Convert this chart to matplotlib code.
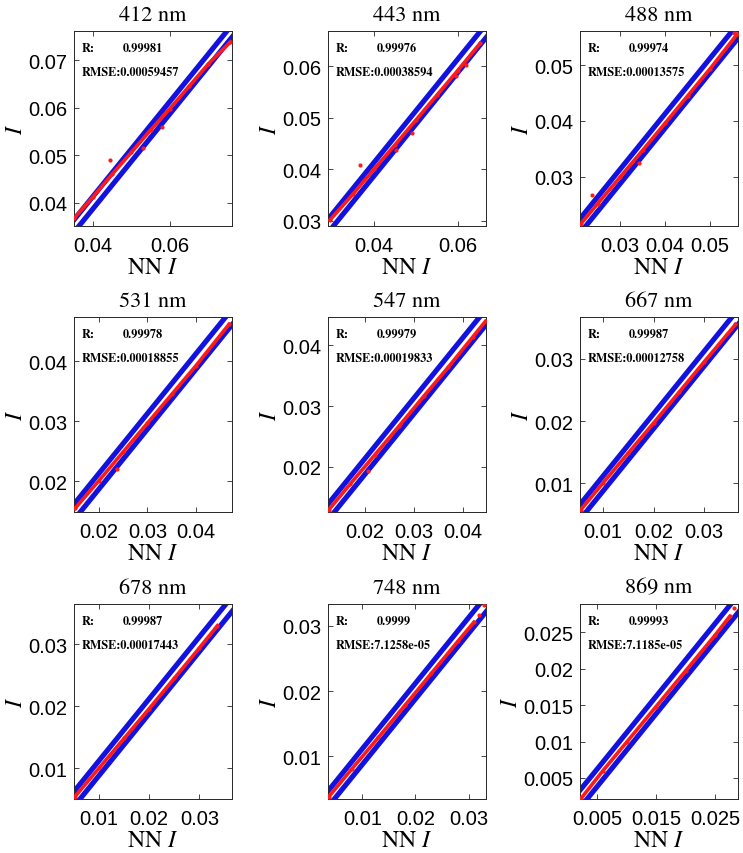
import matplotlib
matplotlib.use("Agg")
import matplotlib.pyplot as plt

plt.rcParams['mathtext.fontset'] = 'stix'

# wavelength panels
titles = ['412 nm', '443 nm', '488 nm', '531 nm', '547 nm', '667 nm', '678 nm', '748 nm', '869 nm']
r_vals = ['0.99981', '0.99976', '0.99974', '0.99978', '0.99979', '0.99987', '0.99987', '0.9999', '0.99993']
rmse_vals = ['0.00059457', '0.00038594', '0.00013575', '0.00018855', '0.00019833',
             '0.00012758', '0.00017443', '7.1258e-05', '7.1185e-05']

# axis limits (same range on x and y)
lims = [(0.0351, 0.0761), (0.0290, 0.0668), (0.0211, 0.0562),
        (0.0149, 0.0474), (0.0125, 0.0447), (0.0054, 0.0367),
        (0.0050, 0.0365), (0.0035, 0.0333), (0.0021, 0.0289)]

xticks = [[0.04, 0.06], [0.04, 0.06], [0.03, 0.04, 0.05],
          [0.02, 0.03, 0.04], [0.02, 0.03, 0.04], [0.01, 0.02, 0.03],
          [0.01, 0.02, 0.03], [0.01, 0.02, 0.03], [0.005, 0.015, 0.025]]
yticks = [[0.04, 0.05, 0.06, 0.07], [0.03, 0.04, 0.05, 0.06], [0.03, 0.04, 0.05],
          [0.02, 0.03, 0.04], [0.02, 0.03, 0.04], [0.01, 0.02, 0.03],
          [0.01, 0.02, 0.03], [0.01, 0.02, 0.03], [0.005, 0.01, 0.015, 0.02, 0.025]]

# half width of the blue band around the 1:1 line
band = [0.0013, 0.0013, 0.0013, 0.0013, 0.0013, 0.0012, 0.0012, 0.0012, 0.0012]

# red points: NN I (x) vs I (y), read along the cloud
nn_main = [
    [0.0352, 0.0400, 0.0450, 0.0500, 0.0550, 0.0600, 0.0650, 0.0700, 0.0757],
    [0.0295, 0.0350, 0.0400, 0.0450, 0.0500, 0.0550, 0.0600, 0.0654],
    [0.0213, 0.0250, 0.0300, 0.0350, 0.0400, 0.0450, 0.0500, 0.0560],
    [0.0151, 0.0200, 0.0250, 0.0300, 0.0350, 0.0400, 0.0468],
    [0.0127, 0.0170, 0.0220, 0.0270, 0.0320, 0.0370, 0.0420, 0.0446],
    [0.0056, 0.0100, 0.0150, 0.0200, 0.0250, 0.0300, 0.0362],
    [0.0051, 0.0100, 0.0150, 0.0200, 0.0250, 0.0300, 0.0336],
    [0.0036, 0.0080, 0.0130, 0.0180, 0.0230, 0.0280, 0.0310],
    [0.0023, 0.0060, 0.0100, 0.0150, 0.0200, 0.0250, 0.0275],
]
i_main = [
    [0.0368, 0.0412, 0.0460, 0.0506, 0.0553, 0.0598, 0.0645, 0.0692, 0.0738],
    [0.0302, 0.0352, 0.0400, 0.0447, 0.0495, 0.0543, 0.0591, 0.0644],
    [0.0215, 0.0251, 0.0299, 0.0347, 0.0396, 0.0445, 0.0494, 0.0556],
    [0.0155, 0.0201, 0.0249, 0.0297, 0.0345, 0.0393, 0.0462],
    [0.0129, 0.0171, 0.0219, 0.0267, 0.0316, 0.0364, 0.0414, 0.0440],
    [0.0058, 0.0101, 0.0149, 0.0197, 0.0246, 0.0295, 0.0355],
    [0.0053, 0.0100, 0.0148, 0.0196, 0.0245, 0.0294, 0.0330],
    [0.0038, 0.0081, 0.0129, 0.0178, 0.0227, 0.0276, 0.0305],
    [0.0022, 0.0060, 0.0099, 0.0148, 0.0197, 0.0246, 0.0272],
]

# scattered red points off the main cloud
nn_out = [
    [0.0445, 0.0530, 0.0580],
    [0.0366, 0.0452, 0.0490, 0.0597, 0.0621],
    [0.0237, 0.0342, 0.0554],
    [0.0238],
    [0.0207],
    [],
    [],
    [0.0320, 0.0330],
    [0.0283],
]
i_out = [
    [0.0489, 0.0515, 0.0560],
    [0.0408, 0.0438, 0.0470, 0.0581, 0.0603],
    [0.0266, 0.0324, 0.0558],
    [0.0221],
    [0.0192],
    [],
    [],
    [0.0316, 0.0331],
    [0.0284],
]

fig = plt.figure(figsize=(7.43, 8.54), dpi=100)
W, H = 743.0, 854.0
col_left = [74, 328, 580]
row_top = [32, 318, 605]
aw, ah = 158, 195

serif = ['STIXGeneral', 'Liberation Serif', 'DejaVu Serif']
sans = ['Liberation Sans', 'DejaVu Sans']
blue = '#1212e0'
red = '#ff1a1a'

for k in range(9):
    r, c = divmod(k, 3)
    ax = fig.add_axes([col_left[c] / W, 1 - (row_top[r] + ah) / H, aw / W, ah / H])
    lo, hi = lims[k]

    # blue band lines
    d = band[k]
    ax.plot([lo - 0.01, hi + 0.01], [lo - 0.01 + d, hi + 0.01 + d], color=blue, lw=3.7,
            solid_capstyle='butt', zorder=2)
    ax.plot([lo - 0.01, hi + 0.01], [lo - 0.01 - d, hi + 0.01 - d], color=blue, lw=3.7,
            solid_capstyle='butt', zorder=2)

    # red data
    ax.plot(nn_main[k], i_main[k], color=red, lw=2.6, zorder=3)
    ax.plot(nn_main[k], i_main[k], '.', color=red, ms=4, zorder=3)
    ax.plot(nn_out[k], i_out[k], '.', color=red, ms=4, zorder=3)

    ax.set_xlim(lo, hi)
    ax.set_ylim(lo, hi)
    ax.set_xticks(xticks[k])
    ax.set_xticklabels([('%g' % v) for v in xticks[k]], family=sans, fontsize=14.5)
    ax.set_yticks(yticks[k])
    ax.set_yticklabels([('%g' % v) for v in yticks[k]], family=sans, fontsize=14.5)
    ax.tick_params(direction='in', length=3.5, width=0.6, top=True, right=True,
                   colors='#262626', labelcolor='black', pad=5)
    ax.tick_params(axis='x', pad=7)
    for s in ax.spines.values():
        s.set_linewidth(0.7)
        s.set_color('#262626')

    ax.set_title(titles[k], family=serif, fontsize=16, pad=8)
    ax.set_xlabel('NN $I$', family=serif, fontsize=17, labelpad=1)
    ax.set_ylabel('$I$', fontsize=17, labelpad=1)

    ax.text(0.05, 0.915, 'R:', transform=ax.transAxes, family=serif, fontsize=8.8,
            fontweight='bold', va='center', ha='left')
    ax.text(0.31, 0.915, r_vals[k], transform=ax.transAxes, family=serif, fontsize=8.8,
            fontweight='bold', va='center', ha='left')
    ax.text(0.05, 0.79, 'RMSE:' + rmse_vals[k], transform=ax.transAxes, family=serif,
            fontsize=8.8, fontweight='bold', va='center', ha='left')

fig.savefig('out.png', dpi=100)
